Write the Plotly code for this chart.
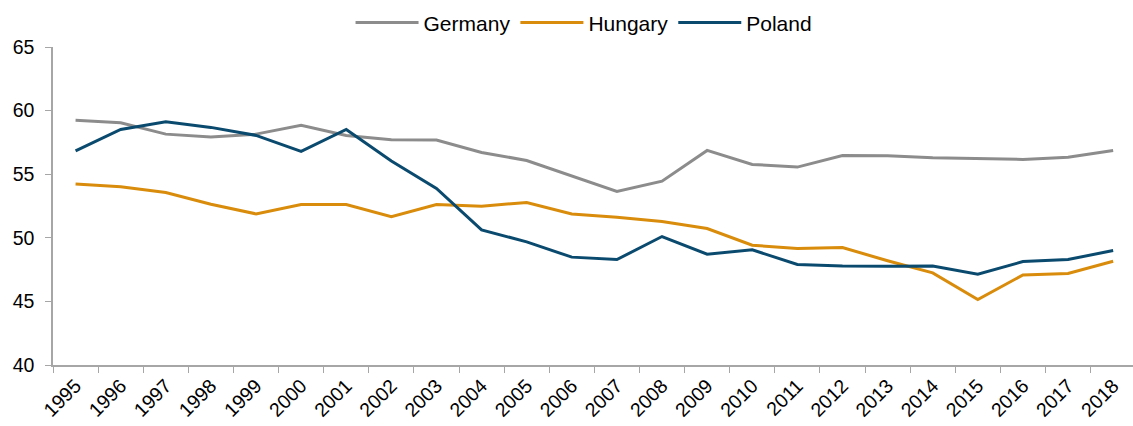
import plotly.graph_objects as go

years = [str(y) for y in range(1995, 2019)]
germany = [59.25, 59.05, 58.15, 57.92, 58.15, 58.84, 58.05, 57.71, 57.68, 56.71, 56.08, 54.85,
           53.64, 54.45, 56.87, 55.77, 55.56, 56.47, 56.45, 56.29, 56.21, 56.16, 56.34, 56.87]
hungary = [54.22, 54.01, 53.56, 52.64, 51.88, 52.62, 52.62, 51.65, 52.62, 52.49, 52.78, 51.88,
           51.62, 51.28, 50.73, 49.42, 49.16, 49.23, 48.20, 47.24, 45.14, 47.08, 47.19, 48.16]
poland = [56.84, 58.52, 59.12, 58.68, 58.05, 56.79, 58.52, 56.03, 53.88, 50.62, 49.68, 48.48,
          48.29, 50.10, 48.71, 49.05, 47.90, 47.79, 47.76, 47.79, 47.14, 48.13, 48.29, 49.00]

series = [("Germany", germany, "#8C8C8C"),
          ("Hungary", hungary, "#D98C0B"),
          ("Poland", poland, "#0B4A6F")]

fig = go.Figure()
for name, vals, col in series:
    fig.add_trace(go.Scatter(x=years, y=vals, name=name, mode="lines",
                             line=dict(color=col, width=3)))

fig.update_layout(
    width=1133, height=426,
    margin=dict(l=52.5, r=0, t=47, b=60.5, autoexpand=False),
    paper_bgcolor="white", plot_bgcolor="white",
    font=dict(family="Liberation Sans, Arial, sans-serif", color="#000000"),
    legend=dict(orientation="h", x=0.2755, xanchor="left", y=1.076, yanchor="middle",
                font=dict(size=21), itemwidth=63, bgcolor="rgba(0,0,0,0)"),
    showlegend=True,
)
fig.update_xaxes(type="category", showgrid=False, showline=True, linecolor="#A6A6A6",
                 linewidth=1.5, ticks="outside", tickson="boundaries", ticklen=6,
                 tickcolor="#A6A6A6", tickangle=-45, tickfont=dict(size=19.5),
                 range=[-0.5, 23.44])
fig.update_yaxes(range=[40, 65], dtick=5, showgrid=False, showline=True, linecolor="#A6A6A6",
                 linewidth=1.5, ticks="outside", ticklen=6, tickcolor="#A6A6A6",
                 tickfont=dict(size=19.5), ticklabelstandoff=7, zeroline=False)

fig.write_html("out.html", config={"displayModeBar": False},
               post_script="document.body.style.margin='0';")
